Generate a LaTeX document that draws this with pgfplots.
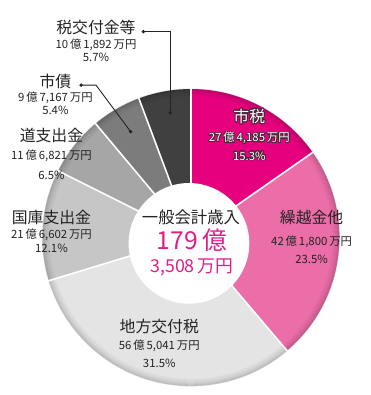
\documentclass[border=0pt]{standalone}
\usepackage{fontspec}
\setmainfont{Noto Sans CJK JP}
\usepackage{pgfplots}
\usepackage{pgfplotstable}
\pgfplotsset{compat=1.18}
\usepackage{contour}
\contourlength{0.8pt}
\contournumber{24}

\definecolor{cA}{RGB}{230,0,126}
\definecolor{cB}{RGB}{236,110,168}
\definecolor{cC}{RGB}{228,228,228}
\definecolor{cD}{RGB}{198,198,198}
\definecolor{cE}{RGB}{166,166,166}
\definecolor{cF}{RGB}{124,124,124}
\definecolor{cG}{RGB}{64,64,64}
\definecolor{mag}{RGB}{225,30,135}
\definecolor{txt}{RGB}{35,35,35}
\definecolor{edge}{RGB}{70,40,55}

% share of general account revenue (percent), clockwise from 12 o'clock
\pgfplotstableread{
pct  col
15.3 cA
23.5 cB
31.5 cC
12.1 cD
6.5  cE
5.4  cF
5.7  cG
}\revenue

\newcommand{\ttl}{\fontsize{16bp}{16bp}\selectfont}
\newcommand{\sml}{\fontsize{11.5bp}{11.5bp}\selectfont}

\begin{document}
\begin{tikzpicture}
\begin{axis}[
  scale only axis, width=375bp, height=395bp,
  xmin=0, xmax=375, ymin=0, ymax=395, y dir=reverse,
  hide axis, clip=false]
\path (axis cs:0,0) rectangle (axis cs:375,395);
\pgfplotsextra{
  \xdef\cum{0}
  \pgfplotstableforeachcolumnelement{pct}\of\revenue\as\p{%
    \pgfmathsetmacro\a{90-3.6*\cum}%
    \pgfmathsetmacro\b{90-3.6*(\cum+\p)}%
    \pgfplotstablegetelem{\pgfplotstablerow}{col}\of\revenue
    \let\thecol\pgfplotsretval
    \fill[fill=\thecol] (axis cs:193,240) -- ++(\a:150bp) arc[start angle=\a, end angle=\b, radius=150bp] -- cycle;
    \pgfmathsetmacro\nc{\cum+\p}%
    \xdef\cum{\nc}%
  }
  % soft rim shading
  \foreach \r/\o in {143/0.015,144/0.03,145/0.045,146/0.06,147/0.08,148/0.1,149/0.13,150/0.16}{
    \draw[black, opacity=\o, line width=1.1bp] (axis cs:193,240) circle[radius=\r bp];
  }
  % white separators
  \xdef\cum{0}
  \pgfplotstableforeachcolumnelement{pct}\of\revenue\as\p{%
    \pgfmathsetmacro\a{90-3.6*\cum}%
    \draw[white, line width=1.6bp] (axis cs:193,240) -- ++(\a:151bp);
    \pgfmathsetmacro\nc{\cum+\p}%
    \xdef\cum{\nc}%
  }
  \fill[white] (axis cs:191,246) circle[radius=61bp];
}

% leader lines
\draw[txt, line width=0.9bp] (axis cs:145,32) -- (axis cs:172,32) -- (axis cs:172,114);
\fill[txt] (axis cs:145,32) circle[radius=1.9bp];
\fill[txt] (axis cs:172,114) circle[radius=1.9bp];
\draw[txt, line width=0.9bp] (axis cs:82,86) -- (axis cs:97,86) -- (axis cs:132,133);
\fill[txt] (axis cs:82,86) circle[radius=1.9bp];
\fill[txt] (axis cs:132,133) circle[radius=1.9bp];

% labels
\begin{scope}[every node/.style={text=txt, inner sep=0pt}]
\node at (axis cs:97,28) {\ttl 税交付金等};
\node at (axis cs:97,45) {\sml 10\,億\,1,892\,万円};
\node at (axis cs:97,58) {\sml 5.7\%};

\node at (axis cs:56,82) {\ttl 市債};
\node at (axis cs:56,99) {\sml 9\,億\,7,167\,万円};
\node at (axis cs:56,112) {\sml 5.4\%};

\node at (axis cs:52,137) {\ttl 道支出金};
\node at (axis cs:52,158) {\sml 11\,億\,6,821\,万円};
\node at (axis cs:52,177) {\sml 6.5\%};

\node at (axis cs:52,220) {\ttl 国庫支出金};
\node at (axis cs:52,237) {\sml 21\,億\,6,602\,万円};
\node at (axis cs:52,251) {\sml 12.1\%};

\node at (axis cs:161,330) {\ttl 地方交付税};
\node at (axis cs:161,350) {\sml 56\,億\,5,041\,万円};
\node at (axis cs:161,367) {\sml 31.5\%};

\node at (axis cs:315,220) {\ttl 繰越金他};
\node at (axis cs:315,244) {\sml 42\,億\,1,800\,万円};
\node at (axis cs:315,262) {\sml 23.5\%};

\node[text=white] at (axis cs:252,118) {\ttl\contour{edge}{市税}};
\node[text=white] at (axis cs:252,140) {\sml\contour{edge}{27\,億\,4,185\,万円}};
\node[text=white] at (axis cs:252,158) {\sml\contour{edge}{15.3\%}};

\node at (axis cs:193,220) {\fontsize{16.5bp}{16.5bp}\selectfont 一般会計歳入};
\node[text=mag] at (axis cs:194,243) {\fontsize{25bp}{25bp}\selectfont 179\,億};
\node[text=mag] at (axis cs:194,270) {\fontsize{18bp}{18bp}\selectfont 3,508\,万円};
\end{scope}
\end{axis}
\end{tikzpicture}
\end{document}
